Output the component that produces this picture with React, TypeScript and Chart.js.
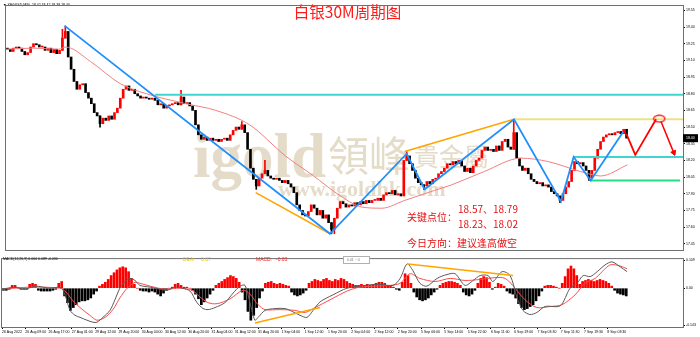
import { useEffect, useRef } from "react";
import { Chart, registerables } from "chart.js";

Chart.register(...registerables);

// ---------------- data ----------------
const timeLabels = [
  "26 Aug 2022", "26 Aug 09:00", "26 Aug 17:00", "27 Aug 01:00", "29 Aug 12:00", "29 Aug 20:00",
  "30 Aug 04:00", "30 Aug 12:00", "30 Aug 20:00", "31 Aug 04:00", "31 Aug 12:00", "31 Aug 20:00",
  "1 Sep 04:00", "1 Sep 12:00", "1 Sep 20:00", "2 Sep 04:00", "2 Sep 12:00", "2 Sep 20:00",
  "5 Sep 06:00", "5 Sep 14:00", "5 Sep 22:00", "6 Sep 11:00", "6 Sep 19:00", "7 Sep 03:30",
  "7 Sep 11:30", "7 Sep 19:30", "8 Sep 03:30",
];
const priceTicks = [19.55, 19.4, 19.25, 19.1, 18.95, 18.8, 18.65, 18.5, 18.35, 18.2, 18.05, 17.9, 17.75, 17.6, 17.45];
const macdTicks = [0.109, 0, -0.143];
const macdTickText = ["0.109", "0.00", "-0.143"];

const firstOpen = 19.21;
const closes = [
  19.20, 19.18, 19.21, 19.22, 19.21, 19.18, 19.15, 19.17, 19.22, 19.25,
  19.24, 19.22, 19.22, 19.19, 19.21, 19.17, 19.20, 19.16, 19.19, 19.30,
  19.36, 19.13, 19.02, 18.91, 18.84, 18.88, 18.89, 18.81, 18.76, 18.71,
  18.63, 18.60, 18.53, 18.58, 18.56, 18.60, 18.57, 18.63, 18.67, 18.76,
  18.84, 18.87, 18.83, 18.84, 18.80, 18.78, 18.76, 18.77, 18.76, 18.75,
  18.76, 18.74, 18.70, 18.71, 18.67, 18.69, 18.70, 18.71, 18.72, 18.70,
  18.77, 18.71, 18.72, 18.69, 18.65, 18.52, 18.43, 18.39, 18.41, 18.38,
  18.40, 18.38, 18.39, 18.37, 18.39, 18.40, 18.38, 18.43, 18.47, 18.50,
  18.48, 18.52, 18.45, 18.30, 18.13, 18.03, 17.97, 18.04, 18.08, 18.11,
  18.06, 18.04, 18.03, 18.04, 18.02, 18.00, 18.02, 17.99, 17.96, 17.91,
  17.80, 17.75, 17.71, 17.70, 17.74, 17.80, 17.77, 17.71, 17.75, 17.68,
  17.71, 17.64, 17.58, 17.68, 17.77, 17.83, 17.81, 17.78, 17.80, 17.79,
  17.82, 17.80, 17.83, 17.81, 17.84, 17.82, 17.84, 17.84, 17.86, 17.84,
  17.89, 17.91, 17.90, 17.93, 17.89, 17.90, 17.88, 18.20, 18.24, 18.17,
  18.11, 18.04, 18.00, 17.98, 17.97, 18.01, 17.99, 18.03, 18.04, 18.08,
  18.10, 18.13, 18.17, 18.16, 18.19, 18.17, 18.20, 18.15, 18.10, 18.13,
  18.09, 18.15, 18.20, 18.22, 18.29, 18.32, 18.29, 18.30, 18.28, 18.33,
  18.29, 18.37, 18.39, 18.32, 18.30, 18.45, 18.22, 18.15, 18.11, 18.13,
  18.08, 18.03, 18.01, 17.99, 18.00, 17.97, 17.98, 17.96, 17.92, 17.90,
  17.88, 17.84, 17.90, 17.96, 18.01, 18.11, 18.19, 18.17, 18.18, 18.15,
  18.11, 18.04, 18.11, 18.22, 18.30, 18.37, 18.41, 18.43, 18.44, 18.43,
  18.45, 18.46, 18.44, 18.48, 18.40,
];
const spikeHighIdx = [19, 20, 60, 81, 89, 138, 175];
const spikeHighVal = [19.38, 19.41, 18.83, 18.55, 18.20, 18.28, 18.56];
const spikeLowIdx = [32, 86, 112, 113, 144, 191, 201];
const spikeLowVal = [18.50, 17.94, 17.54, 17.54, 17.94, 17.82, 18.02];

const maIdx = [0, 9.6, 18.2, 20.6, 29.2, 39.5, 48.5, 62.2, 72.5, 84.2, 96.6, 105.8, 116.2, 123, 129.9, 137.8, 148.1, 154, 165.3, 178, 187.3, 198.6, 205.5, 214.8];
const maVal = [19.20, 19.21, 19.20, 19.22, 19.09, 18.89, 18.80, 18.71, 18.65, 18.52, 18.24, 18.07, 17.87, 17.78, 17.77, 17.84, 17.93, 17.98, 18.10, 18.22, 18.19, 18.10, 18.06, 18.16];

const histVals = [
  -0.008, -0.008, -0.004, 0.011, 0.011, 0, -0.004, -0.004, -0.004, 0.015,
  0.019, 0.015, -0.008, -0.011, -0.011, -0.011, -0.011, -0.008, -0.004, 0.019,
  0.026, -0.030, -0.056, -0.086, -0.075, -0.064, -0.053, -0.049, -0.049, -0.045,
  -0.038, -0.023, -0.011, 0.008, 0.015, 0.023, 0.034, 0.049, 0.060, 0.071,
  0.079, 0.083, 0.079, 0.064, 0.038, 0.015, 0, -0.008, -0.011, -0.011,
  -0.015, -0.011, -0.015, -0.023, -0.030, -0.019, -0.008, 0, 0.004, 0.015,
  0.019, 0.011, 0.004, 0.004, 0, -0.008, -0.023, -0.041, -0.064, -0.053,
  -0.038, -0.023, -0.008, 0.011, 0.019, 0.026, 0.034, 0.041, 0.049, 0.045,
  0.038, 0.023, -0.015, -0.045, -0.090, -0.124, -0.105, -0.075, -0.038, -0.011,
  0.019, 0.023, 0.026, 0.019, 0.015, 0.019, 0.015, 0.011, 0.008, -0.015,
  -0.026, -0.030, -0.026, -0.019, -0.008, 0.019, 0.026, 0.034, 0.030, 0.026,
  0.034, 0.038, 0.030, 0.026, 0.034, 0.030, 0.038, 0.034, 0.026, 0.019,
  0.015, 0.011, 0.011, 0.015, 0.011, 0.015, 0.011, 0.015, 0.019, 0.023,
  0.023, 0.019, 0.011, 0.008, 0.004, -0.004, -0.008, 0.023, 0.056, 0.049,
  0.019, -0.015, -0.034, -0.045, -0.049, -0.045, -0.038, -0.026, -0.015, -0.004,
  0.011, 0.019, 0.023, 0.026, 0.026, 0.023, 0.019, 0.011, -0.015, -0.026,
  -0.030, -0.023, -0.008, 0.019, 0.038, 0.045, 0.041, 0.023, -0.004, 0.004,
  0.019, 0.015, 0.008, -0.011, -0.019, -0.023, -0.038, -0.060, -0.075, -0.083,
  -0.079, -0.071, -0.064, -0.049, -0.030, -0.011, 0.008, 0.011, 0.011, 0.008,
  0.004, 0, 0.019, 0.045, 0.075, 0.086, 0.075, 0.049, 0.015, 0.026,
  0.030, 0.034, 0.030, 0.026, 0.030, 0.034, 0.030, 0.026, 0.019, 0.008,
  -0.008, -0.019, -0.023, -0.026, -0.030,
];

const difIdx = [0, 4.5, 7.9, 11.3, 16.5, 19.2, 20.6, 22, 23.4, 25.1, 26.8, 29.2, 31.3, 32.6, 34.7, 37.1, 38.8, 40.5, 42.3, 44, 45.7, 47.4, 50.9, 54.3, 56.7, 59.5, 61.9, 64.6, 67, 69.1, 70.8, 73.2, 76.6, 79.4, 81.8, 83.5, 85.2, 86.9, 88, 90.4, 93.8, 97.3, 99.7, 102.4, 104.8, 106.9, 109.3, 113.7, 118.6, 124.7, 129.9, 134.4, 136.8, 139.2, 141.2, 143.6, 146, 149.5, 152.9, 155.7, 159.1, 161.9, 164.3, 167, 168.7, 171.8, 174.6, 177, 179, 181.4, 183.8, 186.6, 191.8, 195.2, 197.6, 199.7, 202.1, 204.5, 207.2, 209.6, 212.4, 214.8];
const difVal = [-0.004, 0.004, -0.004, 0.008, 0, 0.004, 0, -0.038, -0.086, -0.105, -0.113, -0.124, -0.132, -0.132, -0.113, -0.086, -0.045, 0, 0.026, 0.038, 0.030, 0.011, 0.004, -0.004, -0.008, 0.004, 0, -0.011, -0.056, -0.079, -0.083, -0.075, -0.056, -0.019, 0.008, 0.011, -0.056, -0.124, -0.113, -0.086, -0.079, -0.079, -0.090, -0.105, -0.113, -0.086, -0.053, -0.026, 0, 0.011, 0.015, 0.011, 0.038, 0.094, 0.068, 0.019, 0.008, 0.038, 0.053, 0.056, 0.011, 0.030, 0.049, 0.049, 0.026, 0.064, 0.049, -0.038, -0.086, -0.102, -0.094, -0.071, -0.068, 0, 0.019, 0.049, 0.045, 0.064, 0.090, 0.102, 0.083, 0.064];
const deaIdx = [0, 9.6, 19.9, 22, 24.1, 26.8, 30.2, 32.6, 35.4, 38.1, 40.5, 43, 45.7, 47.4, 50.9, 56, 61.2, 65.3, 68, 70.8, 73.9, 78.4, 82.8, 85.2, 88, 90.4, 95.5, 100.7, 104.1, 107.6, 112.7, 118.6, 123, 133.3, 136.8, 140.2, 143.6, 148.8, 154, 159.1, 164.3, 169.4, 172.9, 176.3, 179.7, 183.8, 188.3, 192.4, 196.9, 200.3, 203.8, 208.9, 212.4, 214.8];
const deaVal = [-0.004, 0.004, 0, -0.015, -0.045, -0.075, -0.105, -0.124, -0.113, -0.083, -0.038, 0, 0.023, 0.019, 0.008, -0.004, 0, -0.008, -0.034, -0.056, -0.060, -0.041, -0.008, -0.023, -0.064, -0.083, -0.083, -0.086, -0.094, -0.075, -0.045, -0.011, 0.004, 0.011, 0.019, 0.056, 0.038, 0.026, 0.038, 0.030, 0.034, 0.041, 0.038, 0, -0.045, -0.075, -0.071, -0.064, -0.026, 0.019, 0.038, 0.090, 0.086, 0.075];

const zigIdx = [20.3, 112.0, 138.5, 144.7, 175.6, 191.8, 196.2, 202.1, 213.4];
const zigVal = [19.41, 17.54, 18.26, 17.94, 18.57, 17.83, 18.23, 18.02, 18.46];
const projIdx = [214.4, 217.5, 224.7];
const projVal = [18.44, 18.25, 18.57];
const arrowIdx = [226.4, 230.8];
const arrowVal = [18.55, 18.27];
const ringIdx = [225.8];
const ringVal = [18.575];
const orangeLowIdx = [86.3, 112.0];
const orangeLowVal = [17.91, 17.54];
const orangeUpIdx = [137.8, 175.6];
const orangeUpVal = [18.28, 18.57];
const levelVal = [18.79, 18.57, 18.23, 18.02];
const levelFrom = [51.5, 175.6, 196.2, 202.1];
const levelTo = [234, 234, 234, 233];
const macdOrangeAIdx = [86.9, 109.3];
const macdOrangeAVal = [-0.135, -0.075];
const macdOrangeBIdx = [139.5, 175.6];
const macdOrangeBVal = [0.094, 0.049];

// ---------------- helpers ----------------
const pts = (xs: number[], ys: number[]) => xs.map((x, i) => ({ x, y: ys[i] }));
const lineDs = (xs: number[], ys: number[], color: string, width: number, order: number, extra: any = {}) => ({
  type: "line",
  data: pts(xs, ys),
  borderColor: color,
  backgroundColor: color,
  borderWidth: width,
  pointRadius: 0,
  tension: 0,
  fill: false,
  order,
  ...extra,
});

const TICK_FONT = { family: "Liberation Sans, Arial, sans-serif", size: 3.5 };
const CJK = '"Noto Sans CJK SC", "Noto Sans", sans-serif';

const framePlugin = {
  id: "frame",
  afterDraw(chart: any) {
    const { ctx, chartArea: a } = chart;
    ctx.save();
    ctx.strokeStyle = "#6f6f6f";
    ctx.lineWidth = 1;
    ctx.strokeRect(a.left - 0.5, a.top - 0.5, a.right - a.left + 1, a.bottom - a.top + 1);
    ctx.restore();
  },
};

function makeRing(): HTMLCanvasElement {
  const c = document.createElement("canvas");
  c.width = 14;
  c.height = 9;
  const g = c.getContext("2d")!;
  g.strokeStyle = "#ff0000";
  g.lineWidth = 1.3;
  g.beginPath();
  g.ellipse(7, 4.5, 5.6, 3.3, 0, 0, Math.PI * 2);
  g.stroke();
  return c;
}

export default function App() {
  const topRef = useRef<HTMLCanvasElement>(null);
  const botRef = useRef<HTMLCanvasElement>(null);

  useEffect(() => {
    document.body.style.margin = "0";
    const opens = closes.map((c, i) => (i === 0 ? firstOpen : closes[i - 1]));
    const bodyData = closes.map((c, i) => ({ x: i + 0.5, y: [opens[i], c] }));
    const bodyColors = closes.map((c, i) => (c >= opens[i] ? "#ff0000" : "#000000"));
    const wickIdx = Array.from(new Set([...spikeHighIdx, ...spikeLowIdx])).sort((a, b) => a - b);
    const wickData = wickIdx.map((i) => {
      let hi = Math.max(opens[i], closes[i]);
      let lo = Math.min(opens[i], closes[i]);
      const h = spikeHighIdx.indexOf(i);
      const l = spikeLowIdx.indexOf(i);
      if (h >= 0) hi = Math.max(hi, spikeHighVal[h]);
      if (l >= 0) lo = Math.min(lo, spikeLowVal[l]);
      return { x: i + 0.5, y: [lo, hi] };
    });
    const wickColors = wickIdx.map((i) => (closes[i] >= opens[i] ? "#ff0000" : "#000000"));
    const last = closes[closes.length - 1];

    const levelColors = ["#3fd6cf", "#eee08a", "#3fd6cf", "#22de86"];
    const levelDs = levelVal.map((v, k) =>
      lineDs([levelFrom[k], levelTo[k]], [v, v], levelColors[k], 2, 4)
    );

    const topPlugin = {
      id: "topText",
      beforeDatasetsDraw(chart: any) {
        const ctx = chart.ctx;
        ctx.save();
        ctx.fillStyle = "#e4dcc9";
        ctx.textBaseline = "alphabetic";
        ctx.font = 'bold 63px "Liberation Serif"';
        ctx.fillText("igold", 193, 177);
        ctx.font = '41px "Noto Sans CJK TC"';
        ctx.fillText("領峰", 328, 171);
        ctx.font = '25px "Noto Sans CJK TC"';
        ctx.fillText("貴金屬", 414, 166);
        ctx.font = 'bold 22px "Liberation Serif"';
        ctx.fillText("www.igoldhk.com", 278, 196);
        ctx.restore();
      },
      afterDatasetsDraw(chart: any) {
        const ctx = chart.ctx;
        ctx.save();
        ctx.textBaseline = "middle";
        ctx.fillStyle = "#ff1a1a";
        ctx.textAlign = "center";
        ctx.font = `15.5px ${CJK}`;
        ctx.fillText("白银30M周期图", 347.5, 12.5);
        ctx.textAlign = "left";
        ctx.fillStyle = "#e81010";
        ctx.font = `10px ${CJK}`;
        ctx.fillText("关键点位：", 407, 217);
        ctx.fillText("18.57、18.79", 458, 209);
        ctx.fillText("18.23、18.02", 458, 224.5);
        ctx.fillText("今日方向：建议逢高做空", 407, 243);
        ctx.fillStyle = "#000";
        ctx.font = "3.5px Liberation Sans";
        ctx.fillText("▼ XAGUSD,M30  18.42 18.42 18.39 18.40", 3, 5);
        ctx.restore();
      },
      afterDraw(chart: any) {
        const ctx = chart.ctx;
        const y = chart.scales.y.getPixelForValue(last);
        const x0 = chart.chartArea.right;
        ctx.save();
        ctx.fillStyle = "#000";
        ctx.fillRect(x0, y - 4, 15, 8);
        ctx.fillStyle = "#fff";
        ctx.font = "3.5px Liberation Sans";
        ctx.textBaseline = "middle";
        ctx.fillText(last.toFixed(2), x0 + 3, y);
        ctx.restore();
      },
    };

    const c1 = new Chart(topRef.current!, {
      type: "bar",
      data: {
        datasets: [
          lineDs(zigIdx, zigVal, "#1e8ffc", 1.8, 1),
          lineDs(projIdx, projVal, "#ff0000", 1.8, 1),
          lineDs(arrowIdx, arrowVal, "#ff0000", 1.5, 1),
          lineDs([arrowIdx[1]], [arrowVal[1]], "#ff0000", 1, 0, {
            showLine: false,
            pointRadius: 3,
            pointStyle: "triangle",
            pointRotation: 157,
          }),
          lineDs(ringIdx, ringVal, "#ff0000", 1, 0, {
            showLine: false,
            pointRadius: 5,
            pointStyle: makeRing(),
          }),
          lineDs(orangeLowIdx, orangeLowVal, "#ffa500", 1.6, 2),
          lineDs(orangeUpIdx, orangeUpVal, "#ffa500", 1.6, 2),
          ...levelDs,
          lineDs(maIdx, maVal, "#f27f7f", 1, 6, { cubicInterpolationMode: "monotone" }),
          {
            type: "bar",
            data: bodyData,
            backgroundColor: bodyColors,
            borderWidth: 0,
            barThickness: 2,
            minBarLength: 1,
            grouped: false,
            order: 8,
          },
          {
            type: "bar",
            data: wickData,
            backgroundColor: wickColors,
            borderWidth: 0,
            barThickness: 1,
            grouped: false,
            order: 9,
          },
        ] as any,
      },
      options: {
        responsive: false,
        animation: false,
        devicePixelRatio: 1,
        events: [],
        layout: { padding: { left: 2, top: 2, right: 0, bottom: 1 } },
        plugins: { legend: { display: false }, tooltip: { enabled: false } },
        scales: {
          x: { type: "linear", min: 0, max: 234, display: false, offset: false, grid: { offset: false } },
          y: {
            position: "right",
            min: 17.394,
            max: 19.589,
            afterFit: (s: any) => { s.width = 17; },
            afterBuildTicks: (s: any) => { s.ticks = priceTicks.map((v) => ({ value: v })); },
            ticks: {
              autoSkip: false,
              font: TICK_FONT,
              color: "#000",
              padding: 1,
              callback: (v: any) => Number(v).toFixed(2),
            },
            grid: { drawOnChartArea: false, tickLength: 2, color: "#000" },
            border: { display: false },
          },
        } as any,
      },
      plugins: [framePlugin, topPlugin],
    } as any);

    const botPlugin = {
      id: "botText",
      afterDraw(chart: any) {
        const ctx = chart.ctx;
        ctx.save();
        ctx.textBaseline = "middle";
        ctx.fillStyle = "#000";
        ctx.font = "3.5px Liberation Sans";
        ctx.fillText("MACD(12,26,9) 0.064 0.089 -0.030", 3, 3.5);
        ctx.font = "5px Liberation Sans";
        ctx.fillStyle = "#e8c800";
        ctx.fillText("DEA:", 183, 3.5);
        ctx.fillText("0.07", 201, 3.5);
        ctx.fillStyle = "#ff2020";
        ctx.fillText("MACD:", 256, 3.5);
        ctx.fillText("-0.03", 276, 3.5);
        ctx.fillStyle = "#fff";
        ctx.fillRect(343, 0.5, 27, 7);
        ctx.strokeStyle = "#b0b0b0";
        ctx.lineWidth = 1;
        ctx.strokeRect(343.5, 0.5, 26, 7);
        ctx.fillStyle = "#777";
        ctx.font = "3.5px Liberation Sans";
        ctx.fillText("0.01 ~ 0", 347, 4);
        ctx.restore();
      },
    };

    const c2 = new Chart(botRef.current!, {
      type: "bar",
      data: {
        datasets: [
          lineDs(macdOrangeAIdx, macdOrangeAVal, "#ffa500", 1.6, 1),
          lineDs(macdOrangeBIdx, macdOrangeBVal, "#ffa500", 1.6, 1),
          lineDs(difIdx, difVal, "#5a5a5a", 1, 2, { tension: 0.3 }),
          lineDs(deaIdx, deaVal, "#ff4a4a", 1, 3, { tension: 0.3 }),
          {
            type: "bar",
            data: histVals.map((v, i) => ({ x: i + 0.5, y: v })),
            backgroundColor: histVals.map((v) => (v >= 0 ? "#ff0000" : "#000000")),
            borderWidth: 0,
            barThickness: 2,
            grouped: false,
            order: 5,
          },
        ] as any,
      },
      options: {
        responsive: false,
        animation: false,
        devicePixelRatio: 1,
        events: [],
        layout: { padding: { left: 2, top: 1, right: 0, bottom: 0 } },
        plugins: { legend: { display: false }, tooltip: { enabled: false } },
        scales: {
          x: {
            type: "linear",
            min: 0,
            max: 234,
            offset: false,
            afterFit: (s: any) => { s.height = 10; },
            afterBuildTicks: (s: any) => { s.ticks = timeLabels.map((_, k) => ({ value: k * 8 })); },
            ticks: {
              autoSkip: false,
              maxRotation: 0,
              minRotation: 0,
              align: "start",
              font: TICK_FONT,
              color: "#000",
              padding: 0.5,
              callback: (v: any) => timeLabels[Math.round(Number(v) / 8)] ?? "",
            },
            grid: { drawOnChartArea: false, tickLength: 2, color: "#000", offset: false },
            border: { display: false },
          },
          y: {
            position: "right",
            min: -0.1504,
            max: 0.1128,
            afterFit: (s: any) => { s.width = 17; },
            afterBuildTicks: (s: any) => { s.ticks = macdTicks.map((v) => ({ value: v })); },
            ticks: {
              autoSkip: false,
              font: TICK_FONT,
              color: "#000",
              padding: 1,
              callback: (v: any) => macdTickText[macdTicks.indexOf(Number(v))] ?? "",
            },
            grid: { drawOnChartArea: false, tickLength: 2, color: "#000" },
            border: { display: false },
          },
        } as any,
      },
      plugins: [framePlugin, botPlugin],
    } as any);

    return () => {
      c1.destroy();
      c2.destroy();
    };
  }, []);

  return (
    <div style={{ position: "relative", width: 700, height: 337, background: "#fff" }}>
      <canvas ref={topRef} width={700} height={256} style={{ position: "absolute", left: 0, top: 0 }} />
      <canvas ref={botRef} width={700} height={81} style={{ position: "absolute", left: 0, top: 256 }} />
    </div>
  );
}
